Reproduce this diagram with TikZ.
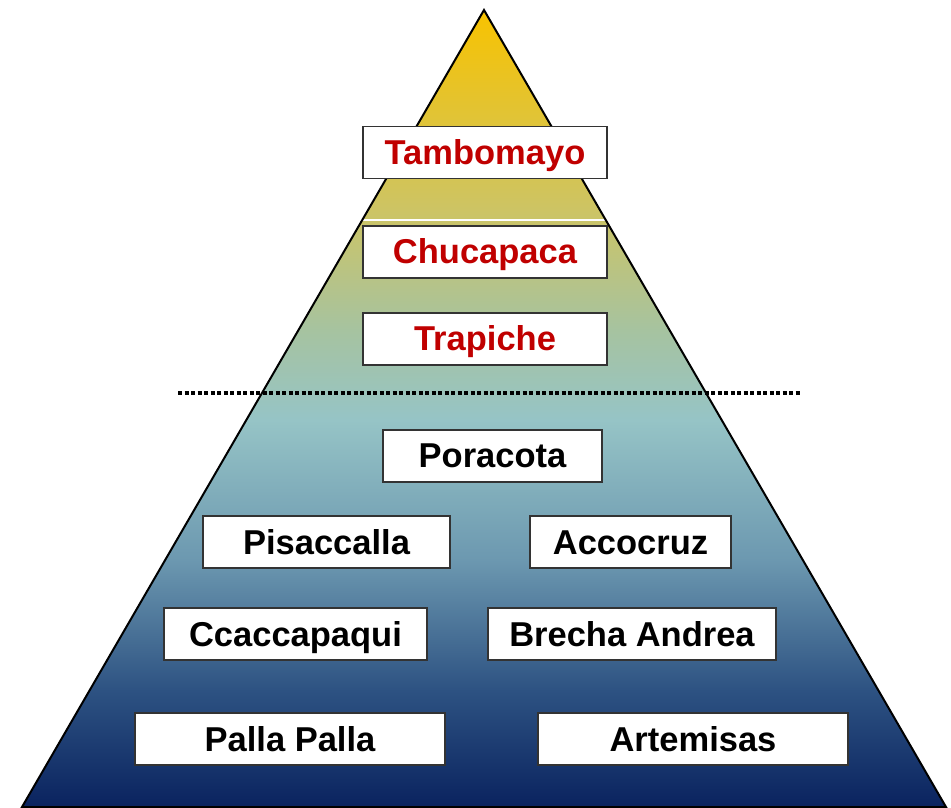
\documentclass[tikz,border=0pt]{standalone}
\usepackage{fontspec}
\setmainfont{Liberation Sans}
\usepackage{tikz}
\usetikzlibrary{calc}
\usetikzlibrary{positioning}

\definecolor{pyrNavy}{RGB}{10,35,95}
\definecolor{pyrBlue}{RGB}{45,82,130}
\definecolor{pyrSteel}{RGB}{108,152,176}
\definecolor{pyrTeal}{RGB}{150,196,198}
\definecolor{pyrSage}{RGB}{166,195,160}
\definecolor{pyrOlive}{RGB}{205,196,100}
\definecolor{pyrGold}{RGB}{248,195,0}
\definecolor{siteRed}{RGB}{192,0,0}

\pgfdeclareverticalshading{pyramid}{100bp}{%
  color(0bp)=(pyrNavy); color(25bp)=(pyrNavy); color(32.3bp)=(pyrBlue);
  color(40.5bp)=(pyrSteel); color(49.3bp)=(pyrTeal); color(54.9bp)=(pyrSage);
  color(62.5bp)=(pyrOlive); color(75bp)=(pyrGold); color(100bp)=(pyrGold)}

\begin{document}
\begin{tikzpicture}[x=1pt,y=1pt,
    site node/.style={rectangle,draw=black!80,fill=white,line width=1.5pt,
        text height=38pt,text depth=14pt,inner sep=0pt,
        font=\fontsize{34.5}{40}\selectfont\bfseries},
    top site/.style={site node,text=siteRed}]

    \useasboundingbox (0,0) rectangle (951,807);

    \coordinate (apex) at (484,797);
    \coordinate (left base) at (22,0);
    \coordinate (right base) at (946,0);

    \shade[shading=pyramid] (apex) -- (left base) -- (right base) -- cycle;
    \draw[white,line width=2pt] ($(apex)!0.2635!(left base)$) -- ($(apex)!0.2635!(right base)$);
    \draw[black,line width=2pt,line join=miter] (apex) -- (left base) -- (right base) -- cycle;

    % dotted divider
    \coordinate (dot left) at (178,414);
    \coordinate (dot right) at (800,414);
    \draw[line width=3.5pt,dash pattern=on 4pt off 2.5pt] (dot left) -- (dot right);

    \node[top site,minimum width=244pt] (tambomayo) at (485,654.5) {Tambomayo};
    \node[top site,minimum width=244pt] (chucapaca) at (485,555) {Chucapaca};
    \node[top site,minimum width=244pt] (trapiche) at (485,468) {Trapiche};

    \node[site node,minimum width=219pt] (poracota) at (492.5,351) {Poracota};
    \node[site node,minimum width=247pt] (pisaccalla) at (326.5,265) {Pisaccalla};
    \node[site node,minimum width=201pt] (accocruz) at (630.5,265) {Accocruz};
    \node[site node,minimum width=263pt] (ccaccapaqui) at (295.5,173) {Ccaccapaqui};
    \node[site node,minimum width=288pt] (brecha) at (632,173) {Brecha Andrea};
    \node[site node,minimum width=310pt] (palla) at (290,68) {Palla Palla};
    \node[site node,minimum width=310pt] (artemisas) at (693,68) {Artemisas};

\end{tikzpicture}
\end{document}
